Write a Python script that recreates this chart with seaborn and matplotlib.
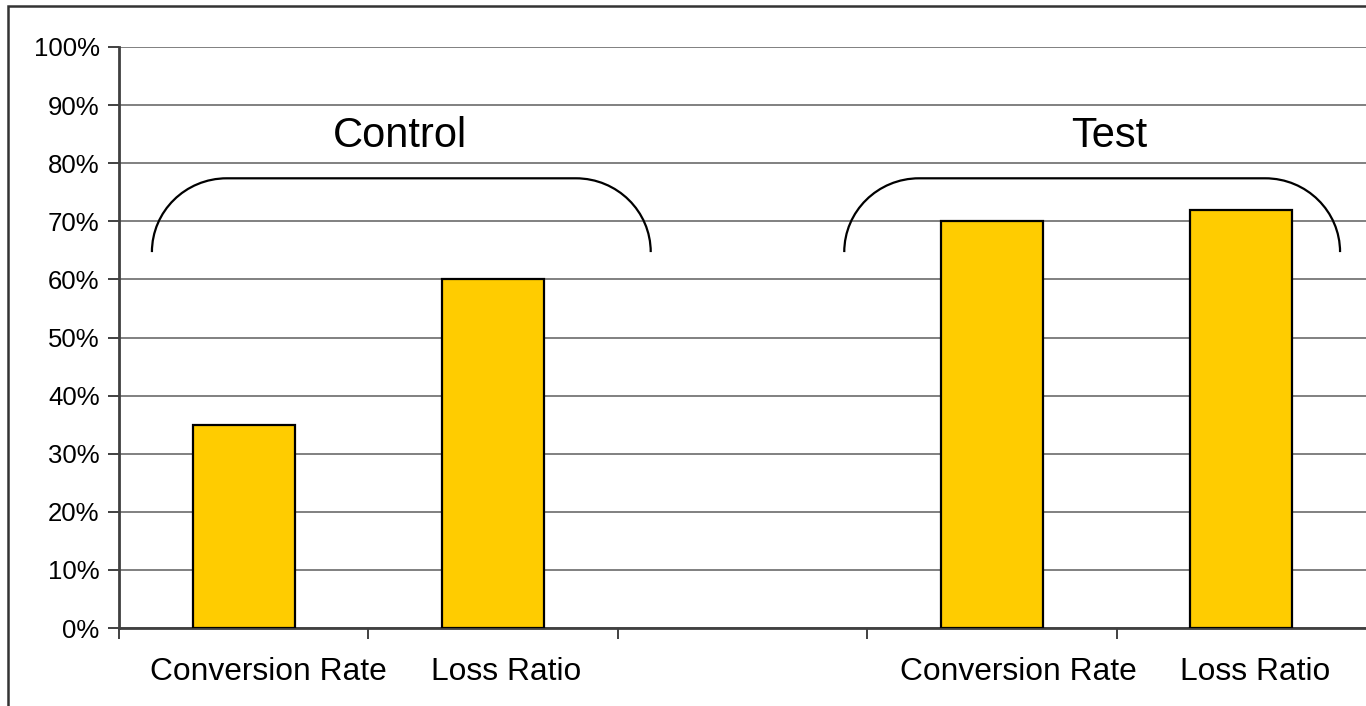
import matplotlib
matplotlib.use("Agg")
import matplotlib.pyplot as plt
from matplotlib.patches import Rectangle, PathPatch
from matplotlib.path import Path
from matplotlib.ticker import FuncFormatter, FixedLocator
from matplotlib.transforms import ScaledTranslation
import seaborn as sns
import pandas as pd

# Chart data
groups = ["Control", "Control", "Test", "Test"]
metrics = ["Conversion Rate", "Loss Ratio", "Conversion Rate", "Loss Ratio"]
values = [35, 60, 70, 72]
group_names = ["Control", "Test"]

# Slot order on the x axis, with an empty gap slot between the groups
slot_keys = ["Control|Conversion Rate", "Control|Loss Ratio", "gap",
             "Test|Conversion Rate", "Test|Loss Ratio"]
slot_labels = ["Conversion Rate", "Loss Ratio", "", "Conversion Rate", "Loss Ratio"]

df = pd.DataFrame({"group": groups, "metric": metrics, "value": values})
df["slot"] = df["group"] + "|" + df["metric"]

sns.set_style("white")
plt.rcParams["font.family"] = ["Liberation Sans", "DejaVu Sans"]
plt.rcParams["text.color"] = "black"
plt.rcParams["xtick.labelcolor"] = "black"
plt.rcParams["ytick.labelcolor"] = "black"

fig = plt.figure(figsize=(13.66, 7.06), dpi=100)
ax = fig.add_axes([119 / 1366, 1 - 628 / 706, 1 - 119 / 1366, (628 - 47) / 706])

sns.barplot(data=df, x="slot", y="value", order=slot_keys, color="#FFCC00",
            saturation=1, width=0.41, edgecolor="black", linewidth=1.6,
            errorbar=None, ax=ax, zorder=3)

ax.set_xlim(-0.5, 4.5)
ax.set_ylim(0, 100)
ax.set_xlabel("")
ax.set_ylabel("")

# Y axis: percent ticks, gray gridlines
ax.set_yticks(range(0, 101, 10))
ax.yaxis.set_major_formatter(FuncFormatter(lambda v, _: f"{int(v)}%"))
ax.grid(axis="y", color="#808080", linewidth=1.4, zorder=0)
ax.set_axisbelow(True)
ax.tick_params(axis="y", which="major", length=8, width=1.4, color="#404040",
               direction="out", labelsize=18.5, pad=6, left=True)

# X axis: labels under each slot, tick marks at slot boundaries
ax.set_xticks(range(len(slot_labels)))
ax.set_xticklabels(slot_labels)
ax.tick_params(axis="x", which="major", length=0, labelsize=22.9, pad=21)
ax.xaxis.set_minor_locator(FixedLocator([-0.5, 0.5, 1.5, 2.5, 3.5]))
ax.tick_params(axis="x", which="minor", length=8, width=1.4, color="#404040",
               direction="out", bottom=True)

# labels sit a little right of the slot centre
label_shift_px = [25, 13, 0, 26, 14]
for lab, dx in zip(ax.get_xticklabels(), label_shift_px):
    lab.set_transform(lab.get_transform() + ScaledTranslation(dx / 100, 0, fig.dpi_scale_trans))

for side in ("top", "right"):
    ax.spines[side].set_visible(False)
for side in ("left", "bottom"):
    ax.spines[side].set_color("#404040")
    ax.spines[side].set_linewidth(2)


def bracket(ax, x0, x1, y0, y1, rx):
    k = 0.5523
    h = y1 - y0
    verts = [(x0, y0), (x0, y0 + k * h), (x0 + rx * (1 - k), y1), (x0 + rx, y1),
             (x1 - rx, y1),
             (x1 - rx * (1 - k), y1), (x1, y0 + k * h), (x1, y0)]
    codes = [Path.MOVETO, Path.CURVE4, Path.CURVE4, Path.CURVE4,
             Path.LINETO,
             Path.CURVE4, Path.CURVE4, Path.CURVE4]
    ax.add_patch(PathPatch(Path(verts, codes), fill=False, ec="black",
                           lw=1.6, zorder=4, clip_on=False))


# Group brackets and captions
bracket(ax, -0.368, 1.632, 64.7, 77.4, 0.30)
bracket(ax, 2.408, 4.396, 64.7, 77.4, 0.30)
ax.text(0.625, 82.8, group_names[0], ha="center", va="baseline", fontsize=30, zorder=5)
ax.text(3.47, 82.8, group_names[1], ha="center", va="baseline", fontsize=30, zorder=5)

# Outer frame around the chart area
fig.patches.append(Rectangle((8 / 1366, -0.1), 1.2, 1 - 5.5 / 706 + 0.1,
                             transform=fig.transFigure, fill=False,
                             ec="#333333", lw=1.8))

fig.savefig("out.png", dpi=100)
